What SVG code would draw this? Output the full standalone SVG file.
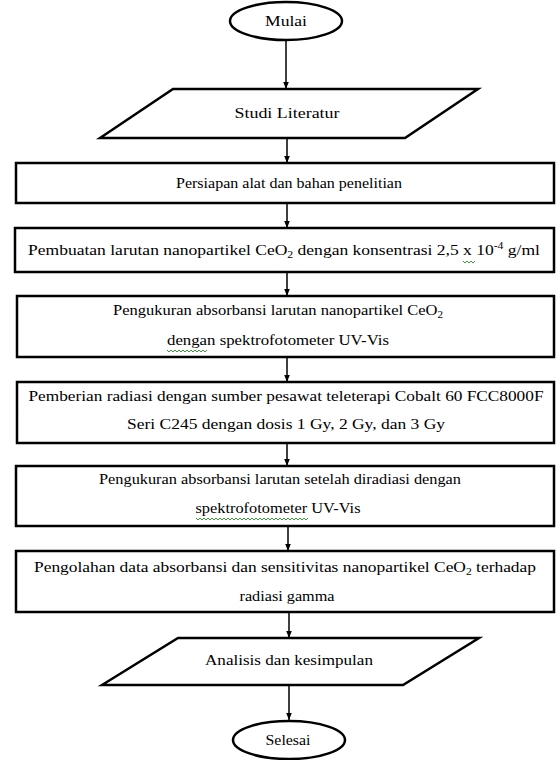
<svg xmlns="http://www.w3.org/2000/svg" width="557" height="760" viewBox="0 0 557 760">
<style>
.shape{fill:#fff;stroke:#000;stroke-width:2.5}
.t{font-family:'Times New Roman','Liberation Serif',Tinos,'DejaVu Serif',serif;font-size:15px;fill:#000;text-anchor:middle}
.sub{font-size:10px}
.conn{stroke:#000;stroke-width:1.5;fill:none}
.sq{stroke:#3a9a3a;stroke-width:1;fill:none}
</style>
<defs>
<marker id="ah" viewBox="0 0 10 10" refX="10" refY="5" markerWidth="7" markerHeight="7" markerUnits="userSpaceOnUse" orient="auto">
<path d="M0,1 L10,5 L0,9 Z" fill="#000"/>
</marker>
</defs>
<rect width="557" height="760" fill="#fff"/>
<g id="connectors">
<line class="conn" x1="286" y1="40" x2="286" y2="89" marker-end="url(#ah)"/>
<line class="conn" x1="287" y1="138" x2="287" y2="163" marker-end="url(#ah)"/>
<line class="conn" x1="287" y1="203" x2="287" y2="228" marker-end="url(#ah)"/>
<line class="conn" x1="287" y1="272" x2="287" y2="296" marker-end="url(#ah)"/>
<line class="conn" x1="287" y1="357" x2="287" y2="382" marker-end="url(#ah)"/>
<line class="conn" x1="287" y1="443" x2="287" y2="466" marker-end="url(#ah)"/>
<line class="conn" x1="288" y1="526" x2="288" y2="551" marker-end="url(#ah)"/>
<line class="conn" x1="289" y1="612" x2="289" y2="638" marker-end="url(#ah)"/>
<line class="conn" x1="289" y1="685" x2="289" y2="720" marker-end="url(#ah)"/>
</g>
<g id="mulai">
<ellipse class="shape" cx="286" cy="21" rx="56" ry="19"/>
<text class="t" x="286" y="26" textLength="42" lengthAdjust="spacingAndGlyphs">Mulai</text>
</g>
<g id="studi">
<polygon class="shape" points="100,138 173,89 478,89 405,138"/>
<text class="t" x="287" y="118" textLength="105" lengthAdjust="spacingAndGlyphs">Studi Literatur</text>
</g>
<g id="persiapan">
<rect class="shape" x="16" y="163" width="538" height="40"/>
<text class="t" x="289" y="188" textLength="226" lengthAdjust="spacingAndGlyphs">Persiapan alat dan bahan penelitian</text>
</g>
<g id="pembuatan">
<rect class="shape" x="15" y="228" width="539" height="44"/>
<text class="t" x="284" y="255" textLength="512" lengthAdjust="spacingAndGlyphs">Pembuatan larutan nanopartikel CeO<tspan class="sub" dy="3">2</tspan><tspan dy="-3"> dengan konsentrasi 2,5 x 10</tspan><tspan class="sub" dy="-6">-4</tspan><tspan dy="6"> g/ml</tspan></text>
<path class="sq" d="M463,261 l2,2 l2,-2 l2,2 l2,-2 l2,2 l2,-2"/>
</g>
<g id="pengukuran1">
<rect class="shape" x="17" y="296" width="537" height="61"/>
<text class="t" x="278" y="315" textLength="330" lengthAdjust="spacingAndGlyphs">Pengukuran absorbansi larutan nanopartikel CeO<tspan class="sub" dy="3">2</tspan></text>
<text class="t" x="278" y="345" textLength="222" lengthAdjust="spacingAndGlyphs">dengan spektrofotometer UV-Vis</text>
<path class="sq" d="M167,350 l2,2 l2,-2 l2,2 l2,-2 l2,2 l2,-2 l2,2 l2,-2 l2,2 l2,-2 l2,2 l2,-2 l2,2 l2,-2 l2,2 l2,-2 l2,2 l2,-2 l2,2 l2,-2"/>
</g>
<g id="pemberian">
<rect class="shape" x="17" y="382" width="537" height="61"/>
<text class="t" x="286" y="401" textLength="515" lengthAdjust="spacingAndGlyphs">Pemberian radiasi dengan sumber pesawat teleterapi Cobalt 60 FCC8000F</text>
<text class="t" x="286" y="429" textLength="318" lengthAdjust="spacingAndGlyphs">Seri C245 dengan dosis 1 Gy, 2 Gy, dan 3 Gy</text>
</g>
<g id="pengukuran2">
<rect class="shape" x="16" y="466" width="538" height="60"/>
<text class="t" x="280" y="484" textLength="362" lengthAdjust="spacingAndGlyphs">Pengukuran absorbansi larutan setelah diradiasi dengan</text>
<text class="t" x="278" y="513" textLength="165" lengthAdjust="spacingAndGlyphs">spektrofotometer UV-Vis</text>
<path class="sq" d="M196,518 l2,2 l2,-2 l2,2 l2,-2 l2,2 l2,-2 l2,2 l2,-2 l2,2 l2,-2 l2,2 l2,-2 l2,2 l2,-2 l2,2 l2,-2 l2,2 l2,-2 l2,2 l2,-2 l2,2 l2,-2 l2,2 l2,-2 l2,2 l2,-2 l2,2 l2,-2 l2,2 l2,-2 l2,2 l2,-2 l2,2 l2,-2 l2,2 l2,-2 l2,2 l2,-2 l2,2 l2,-2 l2,2 l2,-2 l2,2 l2,-2 l2,2 l2,-2 l2,2 l2,-2 l2,2 l2,-2 l2,2 l2,-2 l2,2 l2,-2 l2,2 l2,-2"/>
</g>
<g id="pengolahan">
<rect class="shape" x="16" y="551" width="538" height="61"/>
<text class="t" x="285" y="572" textLength="502" lengthAdjust="spacingAndGlyphs">Pengolahan data absorbansi dan sensitivitas nanopartikel CeO<tspan class="sub" dy="3">2</tspan><tspan dy="-3"> terhadap</tspan></text>
<text class="t" x="287" y="601" textLength="95" lengthAdjust="spacingAndGlyphs">radiasi gamma</text>
</g>
<g id="analisis">
<polygon class="shape" points="102,685 178,638 479,638 403,685"/>
<text class="t" x="289" y="665" textLength="168" lengthAdjust="spacingAndGlyphs">Analisis dan kesimpulan</text>
</g>
<g id="selesai">
<ellipse class="shape" cx="289" cy="740" rx="56" ry="19"/>
<text class="t" x="288" y="745" textLength="45" lengthAdjust="spacingAndGlyphs">Selesai</text>
</g>
</svg>
